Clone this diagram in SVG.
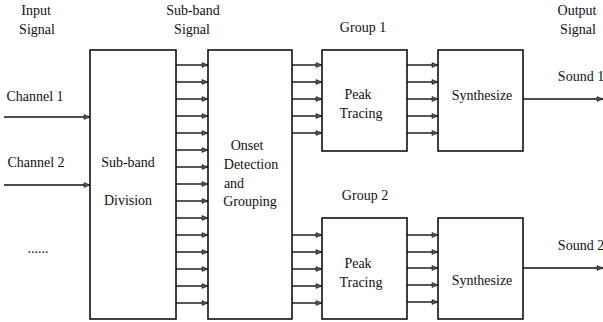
<svg xmlns="http://www.w3.org/2000/svg" width="603" height="322" viewBox="0 0 603 322">
<style>
text{font-family:"Liberation Serif","Times New Roman",serif;font-size:14px;fill:#111;text-anchor:middle;dominant-baseline:central}
.box{fill:#fff;stroke:#111;stroke-width:1.6}
.c line{stroke:#111;stroke-width:1.4;marker-end:url(#a)}
</style>
<defs>
<marker id="a" viewBox="0 0 10 10" refX="10" refY="5" markerWidth="8" markerHeight="6" markerUnits="userSpaceOnUse" orient="auto">
<path d="M0,1 L10,5 L0,9 Z" fill="#555" stroke="#111" stroke-width="1"/>
</marker>
</defs>
<rect width="603" height="322" fill="#fff"/>
<g id="labels">
<text x="36" y="10">Input</text>
<text x="37" y="29">Signal</text>
<text x="193" y="10">Sub-band</text>
<text x="192" y="29">Signal</text>
<text x="363" y="27">Group 1</text>
<text x="577" y="10">Output</text>
<text x="578" y="29">Signal</text>
<text x="35" y="96">Channel 1</text>
<text x="36" y="162">Channel 2</text>
<text x="38" y="248">......</text>
<text x="365" y="195">Group 2</text>
<text x="581" y="76">Sound 1</text>
<text x="581" y="245">Sound 2</text>
</g>
<g id="subband">
<rect class="box" x="90" y="50" width="86" height="269"/>
<text x="128" y="162">Sub-band</text>
<text x="128" y="200">Division</text>
</g>
<g id="onset">
<rect class="box" x="208" y="50" width="84" height="269"/>
<text x="247" y="145">Onset</text>
<text x="251" y="164">Detection</text>
<text x="234" y="183">and</text>
<text x="250" y="201">Grouping</text>
</g>
<g id="peak1">
<rect class="box" x="322" y="50" width="85" height="101"/>
<text x="358" y="94">Peak</text>
<text x="361" y="113">Tracing</text>
</g>
<g id="synth1">
<rect class="box" x="438" y="50" width="85" height="101"/>
<text x="482" y="95">Synthesize</text>
</g>
<g id="peak2">
<rect class="box" x="322" y="218" width="85" height="101"/>
<text x="358" y="263">Peak</text>
<text x="361" y="282">Tracing</text>
</g>
<g id="synth2">
<rect class="box" x="438" y="218" width="85" height="101"/>
<text x="482" y="280">Synthesize</text>
</g>
<g id="connectors" class="c">
<line x1="4" y1="117" x2="90" y2="117"/>
<line x1="4" y1="185" x2="90" y2="185"/>
<line x1="176" y1="65" x2="208" y2="65"/>
<line x1="176" y1="82" x2="208" y2="82"/>
<line x1="176" y1="99" x2="208" y2="99"/>
<line x1="176" y1="116" x2="208" y2="116"/>
<line x1="176" y1="133" x2="208" y2="133"/>
<line x1="176" y1="150" x2="208" y2="150"/>
<line x1="176" y1="167" x2="208" y2="167"/>
<line x1="176" y1="184" x2="208" y2="184"/>
<line x1="176" y1="201" x2="208" y2="201"/>
<line x1="176" y1="218" x2="208" y2="218"/>
<line x1="176" y1="235" x2="208" y2="235"/>
<line x1="176" y1="252" x2="208" y2="252"/>
<line x1="176" y1="269" x2="208" y2="269"/>
<line x1="176" y1="286" x2="208" y2="286"/>
<line x1="176" y1="303" x2="208" y2="303"/>
<line x1="292" y1="65" x2="322" y2="65"/>
<line x1="292" y1="82" x2="322" y2="82"/>
<line x1="292" y1="99" x2="322" y2="99"/>
<line x1="292" y1="116" x2="322" y2="116"/>
<line x1="292" y1="133" x2="322" y2="133"/>
<line x1="292" y1="235" x2="322" y2="235"/>
<line x1="292" y1="252" x2="322" y2="252"/>
<line x1="292" y1="269" x2="322" y2="269"/>
<line x1="292" y1="286" x2="322" y2="286"/>
<line x1="292" y1="303" x2="322" y2="303"/>
<line x1="407" y1="65" x2="438" y2="65"/>
<line x1="407" y1="82" x2="438" y2="82"/>
<line x1="407" y1="99" x2="438" y2="99"/>
<line x1="407" y1="116" x2="438" y2="116"/>
<line x1="407" y1="133" x2="438" y2="133"/>
<line x1="407" y1="235" x2="438" y2="235"/>
<line x1="407" y1="252" x2="438" y2="252"/>
<line x1="407" y1="268" x2="438" y2="268"/>
<line x1="407" y1="285" x2="438" y2="285"/>
<line x1="407" y1="302" x2="438" y2="302"/>
<line x1="523" y1="99" x2="603" y2="99"/>
<line x1="523" y1="268" x2="603" y2="268"/>
</g>
</svg>
